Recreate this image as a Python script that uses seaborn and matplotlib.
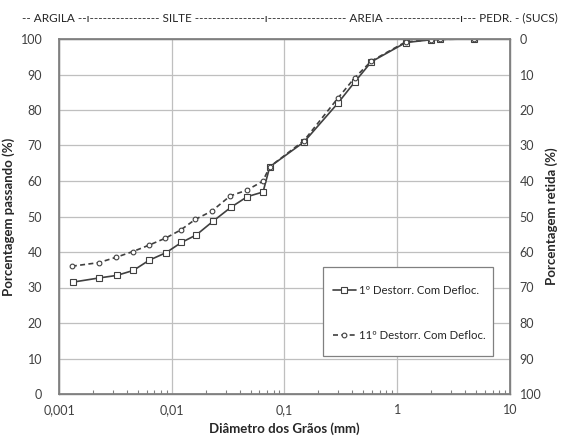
import matplotlib
matplotlib.use("Agg")
import matplotlib.pyplot as plt
import matplotlib.ticker as mticker
from matplotlib.patches import Rectangle
import numpy as np
import pandas as pd
import seaborn as sns

# ---- data ----
diam_1 = [0.00132, 0.00228, 0.00325, 0.00456, 0.00632, 0.00889, 0.0122, 0.0165,
          0.0231, 0.0335, 0.0468, 0.0645, 0.074, 0.149, 0.297, 0.42, 0.59,
          1.19, 2.0, 2.38, 4.76]
pass_1 = [31.5, 32.7, 33.4, 34.8, 37.7, 39.8, 42.7, 44.8, 48.6, 52.6, 55.6, 56.9,
          64.0, 71.0, 81.9, 87.9, 93.6, 99.0, 99.8, 99.9, 100.0]
diam_2 = [0.00130, 0.00225, 0.00320, 0.00450, 0.00625, 0.00880, 0.0120, 0.0162,
          0.0226, 0.0330, 0.0462, 0.0640, 0.074, 0.149, 0.297, 0.42, 0.59,
          1.19, 2.0, 2.38, 4.76]
pass_2 = [36.0, 37.0, 38.5, 40.1, 41.9, 43.9, 46.2, 49.2, 51.5, 55.8, 57.4, 59.9,
          64.0, 71.4, 83.3, 89.1, 93.8, 99.2, 99.8, 99.9, 100.0]
label_1 = "1º Destorr. Com Defloc."
label_2 = "11º Destorr. Com Defloc."

x_ticks = [0.001, 0.01, 0.1, 1, 10]
x_tick_labels = ["0,001", "0,01", "0,1", "1", "10"]
y_ticks = list(range(0, 101, 10))
y_ticks_right = list(range(0, 101, 10))

top_text = ("-- ARGILA --ı" + "-" * 16 + " SILTE " + "-" * 16 + "ı" + "-" * 18 +
            " AREIA " + "-" * 17 + "ı--- PEDR. - (SUCS)")

# ---- style ----
sns.set_theme(style="white")
plt.rcParams['font.family'] = ['Lato', 'DejaVu Sans']
txt_col = "#404040"
line_col = "#404040"
grid_col = "#bfbfbf"

W, H = 564, 443
fig = plt.figure(figsize=(W / 100, H / 100), dpi=100)
ax = fig.add_axes([59/W, 1-394/H, (510-59)/W, (394-39)/H])

df1 = pd.DataFrame({"d": diam_1, "p": pass_1})
df2 = pd.DataFrame({"d": diam_2, "p": pass_2})

sns.lineplot(data=df1, x="d", y="p", ax=ax, sort=False, color=line_col,
             linewidth=1.2, marker="s", markersize=3.9, markerfacecolor="white",
             markeredgecolor=line_col, markeredgewidth=0.8, label=label_1)
sns.lineplot(data=df2, x="d", y="p", ax=ax, sort=False, color=line_col,
             linewidth=1.2, linestyle=(0, (3, 2)), marker="o", markersize=3.4,
             markerfacecolor="white", markeredgecolor=line_col,
             markeredgewidth=0.8, label=label_2)

ax.set_xscale("log")
ax.set_xlim(0.001, 10)
ax.set_ylim(0, 100)
ax.xaxis.set_major_locator(mticker.FixedLocator(x_ticks))
ax.xaxis.set_major_formatter(mticker.FixedFormatter(x_tick_labels))
ax.xaxis.set_minor_locator(mticker.LogLocator(base=10, subs=np.arange(2, 10)))
ax.xaxis.set_minor_formatter(mticker.NullFormatter())
ax.set_yticks(y_ticks)

ax.grid(True, which="major", color=grid_col, linewidth=0.9)
ax.set_axisbelow(True)
for s in ax.spines.values():
    s.set_color("#808080")
    s.set_linewidth(1.0)

ax.tick_params(axis="x", which="major", length=0, pad=7, labelsize=9,
               labelcolor=txt_col)
ax.tick_params(axis="x", which="minor", direction="in", length=3, width=0.8,
               color="#808080", bottom=True)
ax.tick_params(axis="y", which="both", length=0, pad=12, labelsize=9,
               labelcolor=txt_col)

ax.set_xlabel("Diâmetro dos Grãos (mm)", fontsize=9.5, fontweight="bold",
              color="#262626", labelpad=5)
ax.set_ylabel("Porcentagem passando (%)", fontsize=9.5, fontweight="bold",
              color="#262626", labelpad=4)

ax2 = ax.twinx()
ax2.set_ylim(100, 0)
ax2.set_yticks(y_ticks_right)
ax2.tick_params(axis="y", length=0, pad=7, labelsize=9, labelcolor=txt_col)
ax2.set_ylabel("Porcentagem retida (%)", fontsize=9.5, fontweight="bold",
               color="#262626", labelpad=3)
for s in ax2.spines.values():
    s.set_color("#808080")
ax2.grid(False)

# legend box (frame drawn separately for Excel-like asymmetric padding)
box = Rectangle((323/W, 1-356/H), (493-323)/W, (356-267)/H,
                transform=fig.transFigure, facecolor="white",
                edgecolor="#808080", linewidth=0.9, zorder=5)
ax2.add_artist(box)
leg = ax2.legend(*ax.get_legend_handles_labels(), loc="upper left",
                 bbox_to_anchor=(333/W, 1-285/H),
                 bbox_transform=fig.transFigure,
                 frameon=False, fontsize=8.2, labelspacing=2.95,
                 handlelength=2.0, handletextpad=0.25, borderpad=0,
                 borderaxespad=0)
leg.set_zorder(6)
if ax.get_legend() is not None:
    ax.get_legend().remove()
for t in leg.get_texts():
    t.set_color("#262626")

fig.text(22/W, 1-18/H, top_text, fontsize=8.5, color="#262626",
         ha="left", va="center")

fig.savefig("out.png", dpi=100)
